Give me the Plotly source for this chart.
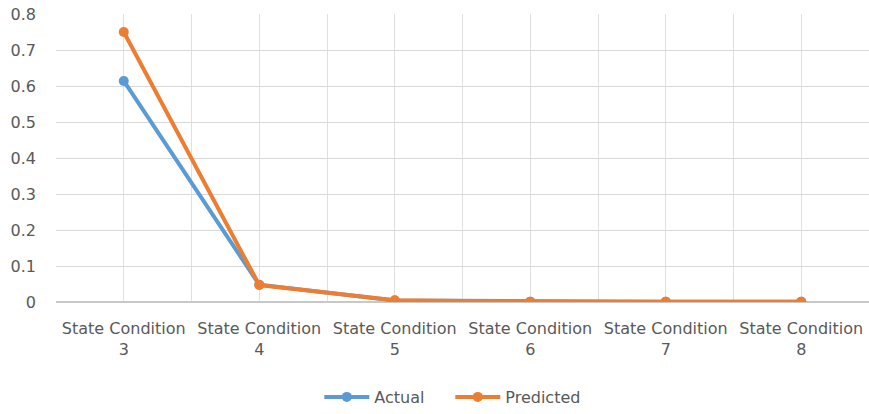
import plotly.graph_objects as go

categories = ["State Condition<br>3", "State Condition<br>4", "State Condition<br>5",
              "State Condition<br>6", "State Condition<br>7", "State Condition<br>8"]
actual = [0.614, 0.048, 0.004, 0.001, 0.0005, 0.0005]
predicted = [0.75, 0.047, 0.005, 0.001, 0.001, 0.001]
y_ticks = [0, 0.1, 0.2, 0.3, 0.4, 0.5, 0.6, 0.7, 0.8]
y_ticklabels = ["0", "0.1", "0.2", "0.3", "0.4", "0.5", "0.6", "0.7", "0.8"]

xpos = list(range(len(categories)))
xticks = []
xtext = []
for i, c in enumerate(categories):
    xticks += [i - 0.5, i]
    xtext += ["", c]
xticks.append(len(categories) - 0.5)
xtext.append("")

fig = go.Figure()
fig.add_trace(go.Scatter(x=xpos, y=actual, name="Actual", mode="lines+markers",
                         line=dict(color="#5B9BD5", width=4), marker=dict(size=10, color="#5B9BD5")))
fig.add_trace(go.Scatter(x=xpos, y=predicted, name="Predicted", mode="lines+markers",
                         line=dict(color="#ED7D31", width=4), marker=dict(size=10, color="#ED7D31")))

fam = "DejaVu Sans, sans-serif"
fig.update_layout(
    width=869, height=414,
    margin=dict(l=56, r=0, t=14, b=108),
    paper_bgcolor="white", plot_bgcolor="white",
    font=dict(family=fam, size=14, color="#595959"),
    xaxis=dict(range=[-0.5, len(categories) - 0.5], tickvals=xticks, ticktext=xtext,
               showgrid=True, gridcolor="#e0e0e0", gridwidth=1, zeroline=False,
               showline=False, ticks="", automargin=False, ticklabelstandoff=15,
               tickfont=dict(family=fam, size=16, color="#595959")),
    yaxis=dict(range=[0, 0.8], tickvals=y_ticks, ticktext=y_ticklabels,
               showgrid=True, gridcolor="#d9d9d9", gridwidth=1,
               zeroline=True, zerolinecolor="#c8c8c8", zerolinewidth=1.5,
               ticks="", ticklabelstandoff=19, automargin=False,
               tickfont=dict(family=fam, size=16, color="#595959")),
    legend=dict(orientation="h", x=0.485, xanchor="center", y=-0.332, yanchor="middle",
                font=dict(family=fam, size=16, color="#595959"), itemwidth=45,
                entrywidth=71),
    showlegend=True,
)
fig.write_html("out.html", config={"displayModeBar": False},
               post_script="document.body.style.margin='0';document.body.style.overflow='hidden';")
